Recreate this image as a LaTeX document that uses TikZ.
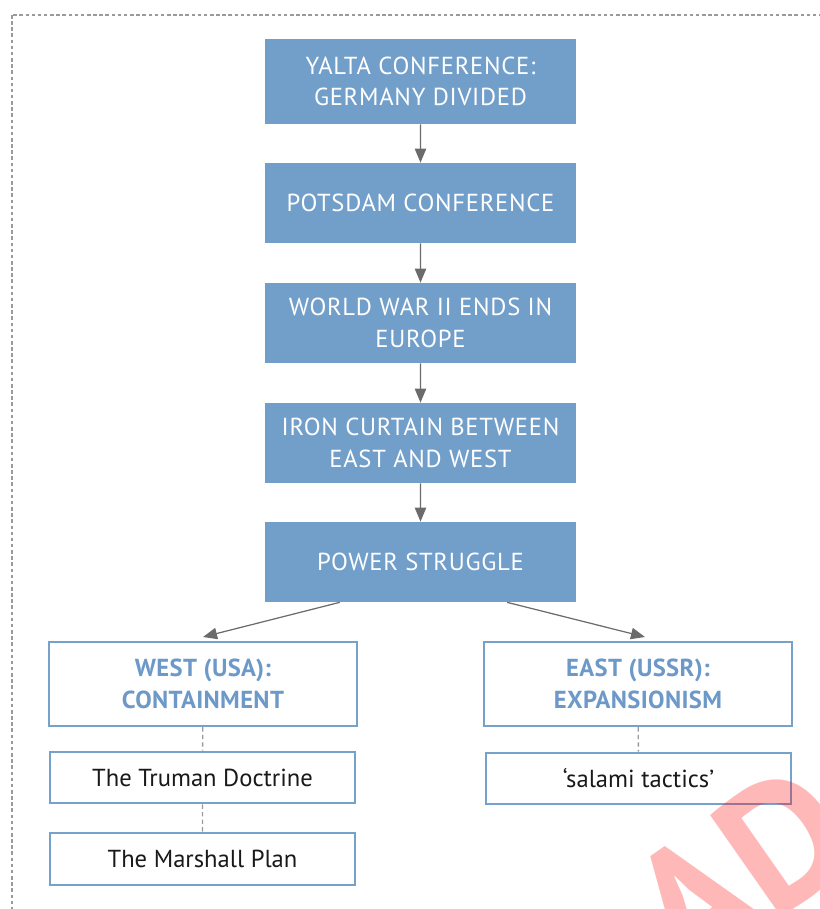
\documentclass[tikz,border=0pt]{standalone}
\usepackage{fontspec}
\setmainfont{PT Sans}
\usetikzlibrary{arrows.meta,calc}
\definecolor{boxblue}{HTML}{729FCA}
\definecolor{lineblue}{HTML}{76A1CB}
\definecolor{titleblue}{HTML}{6C99C7}
\definecolor{arrowgray}{HTML}{6B6B6B}
\definecolor{dashgray}{HTML}{9A9A9A}

\begin{document}
\begin{tikzpicture}[scale=0.2]
	\tikzstyle{every node}+=[inner sep=0pt]
	\tikzstyle{event}=[rectangle, fill=boxblue, text=white, minimum width=6.22cm, minimum height=1.6cm, align=center, font=\fontsize{14}{18}\selectfont\addfontfeatures{LetterSpace=3}]
	\tikzstyle{side}=[rectangle, draw=lineblue, line width=1.4pt, fill=white, text=titleblue, minimum width=6.16cm, minimum height=1.68cm, align=center, font=\fontsize{14}{18}\selectfont\bfseries\addfontfeatures{LetterSpace=1.5}]
	\tikzstyle{policy}=[rectangle, draw=lineblue, line width=1.4pt, fill=white, text=black!90, minimum width=6.1cm, minimum height=1.03cm, font=\fontsize{14}{18}\selectfont]
	\tikzstyle{flow}=[arrowgray, line width=0.7pt, -{Triangle[length=8pt,width=6.5pt]}]
	\tikzstyle{link}=[dashgray, line width=0.8pt, dash pattern=on 2.5pt off 1.8pt]
	\useasboundingbox (0,0) rectangle (82,-90.9);
	\begin{scope}
	\clip (0,0) rectangle (82,-90.9);
	\draw [dashgray, line width=0.6pt, dash pattern=on 2pt off 1.5pt] (1.2,-1.5) rectangle (84,-93);
	\node [event, minimum height=1.7cm] (yalta) at (42.05,-8.15) {YALTA CONFERENCE:\\GERMANY DIVIDED};
	\node [event] (potsdam) at (42.05,-20.3) {POTSDAM CONFERENCE};
	\node [event] (warend) at (42.05,-32.3) {WORLD WAR II ENDS IN\\EUROPE};
	\node [event] (curtain) at (42.05,-44.3) {IRON CURTAIN BETWEEN\\EAST AND WEST};
	\node [event] (power) at (42.05,-56.2) {POWER STRUGGLE};
	\node [side] (west) at (20.3,-68.4) {WEST (USA):\\CONTAINMENT};
	\node [side] (east) at (63.8,-68.4) {EAST (USSR):\\EXPANSIONISM};
	\node [policy] (truman) at (20.25,-77.75) {The Truman Doctrine};
	\node [policy] (marshall) at (20.25,-85.9) {The Marshall Plan};
	\node [policy] (salami) at (63.85,-77.85) {`salami tactics'};
	\draw [flow] (yalta) -- (potsdam);
	\draw [flow] (potsdam) -- (warend);
	\draw [flow] (warend) -- (curtain);
	\draw [flow] (curtain) -- (power);
	\coordinate (powerleft) at ($(power.south west)!0.241!(power.south east)$);
	\coordinate (powerright) at ($(power.south west)!0.778!(power.south east)$);
	\coordinate (westtip) at (20.3,-63.7);
	\coordinate (easttip) at (64.5,-63.7);
	\draw [flow] (powerleft) -- (westtip);
	\draw [flow] (powerright) -- (easttip);
	\draw [link] (west) -- (truman);
	\draw [link] (truman) -- (marshall);
	\draw [link] (east) -- (salami);
	\node [rotate=35, text=red, opacity=0.28, font=\fontsize{100}{100}\selectfont\bfseries] (stamp) at (74,-87) {AD};
	\end{scope}
\end{tikzpicture}
\end{document}
